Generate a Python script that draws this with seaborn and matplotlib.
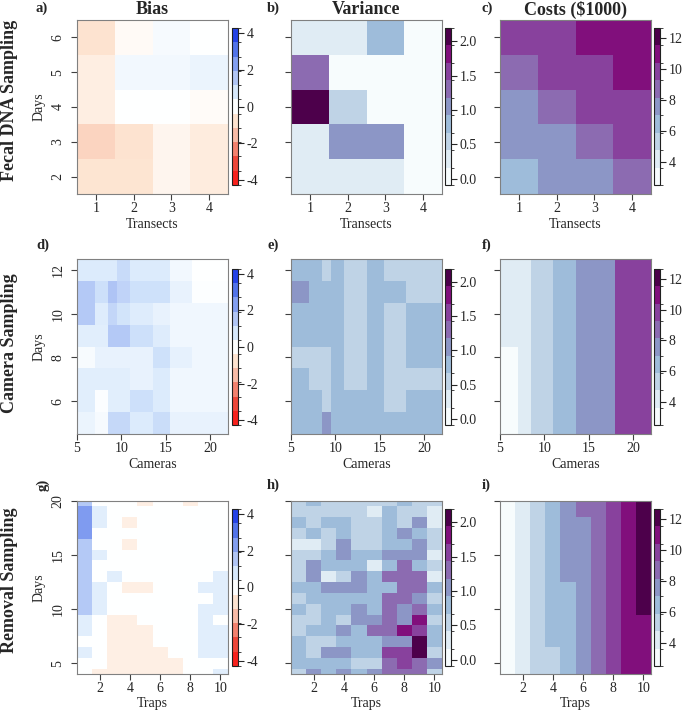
import numpy as np
import pandas as pd
import matplotlib
matplotlib.use("Agg")
import matplotlib.pyplot as plt
from matplotlib.colors import ListedColormap, LinearSegmentedColormap, BoundaryNorm, Normalize
from matplotlib.cm import ScalarMappable
import seaborn as sns

# =====================================
# Data (rows listed top-down, i.e. highest day first)
# =====================================
transects = [1, 2, 3, 4]
days_fecal = [6, 5, 4, 3, 2]
bias_fecal = [[-0.8, -0.15, 0.2, 0.0],
              [-0.5, 0.25, 0.25, 0.4],
              [-0.5, 0.0, 0.0, -0.12],
              [-1.1, -0.8, -0.3, -0.55],
              [-0.75, -0.75, -0.3, -0.55]]
var_fecal = [[0.3, 0.3, 0.8, 0.05],
             [1.3, 0.05, 0.05, 0.05],
             [2.05, 0.5, 0.05, 0.05],
             [0.3, 1.0, 1.0, 0.05],
             [0.3, 0.3, 0.3, 0.05]]
cost_fecal = [[9.8, 9.8, 11.0, 11.0],
              [8.7, 9.8, 9.8, 11.0],
              [7.6, 8.7, 9.8, 9.8],
              [7.6, 7.6, 8.7, 9.8],
              [6.4, 7.6, 7.6, 8.7]]

cameras = [6, 8, 9, 10, 12, 15, 16, 20]
days_camera = [12, 11, 10, 9, 8, 7, 6, 5]
bias_camera = [[0.7, 0.7, 0.7, 1.1, 0.7, 0.7, 0.25, 0.0],
               [1.5, 1.0, 1.6, 1.25, 0.95, 0.95, 0.45, 0.05],
               [1.5, 0.65, 1.2, 0.9, 0.65, 0.45, 0.3, 0.3],
               [0.6, 0.6, 1.5, 1.5, 1.0, 0.65, 0.3, 0.3],
               [0.15, 0.45, 0.45, 0.45, 0.45, 0.95, 0.5, 0.3],
               [0.6, 0.6, 0.6, 0.6, 0.45, 0.7, 0.3, 0.3],
               [0.6, 0.1, 0.6, 0.6, 1.0, 0.7, 0.3, 0.3],
               [0.4, 0.2, 1.15, 1.15, 0.7, 1.05, 0.45, 0.45]]
var_camera = [[0.8, 0.8, 0.5, 0.8, 0.5, 0.8, 0.5, 0.5],
              [1.0, 0.8, 0.8, 0.8, 0.5, 0.8, 0.8, 0.5],
              [0.8, 0.8, 0.8, 0.8, 0.5, 0.8, 0.5, 0.8],
              [0.8, 0.8, 0.8, 0.8, 0.5, 0.8, 0.5, 0.8],
              [0.5, 0.5, 0.5, 0.8, 0.5, 0.8, 0.5, 0.8],
              [0.8, 0.5, 0.5, 0.8, 0.5, 0.8, 0.5, 0.5],
              [0.8, 0.8, 0.5, 0.8, 0.8, 0.8, 0.5, 0.8],
              [0.8, 0.8, 1.0, 0.8, 0.8, 0.8, 0.8, 0.8]]
cost_camera = [[4.2, 4.2, 5.3, 5.3, 6.4, 7.6, 7.6, 9.8],
               [4.2, 4.2, 5.3, 5.3, 6.4, 7.6, 7.6, 9.8],
               [4.2, 4.2, 5.3, 5.3, 6.4, 7.6, 7.6, 9.8],
               [4.2, 4.2, 5.3, 5.3, 6.4, 7.6, 7.6, 9.8],
               [3.0, 4.2, 5.3, 5.3, 6.4, 7.6, 7.6, 9.8],
               [3.0, 4.2, 5.3, 5.3, 6.4, 7.6, 7.6, 9.8],
               [3.0, 4.2, 5.3, 5.3, 6.4, 7.6, 7.6, 9.8],
               [3.0, 4.2, 5.3, 5.3, 6.4, 7.6, 7.6, 9.8]]

traps = [1, 2, 3, 4, 5, 6, 7, 8, 9, 10]
days_removal = [20, 19, 18, 17, 16, 15, 14, 13, 12, 11, 10, 9, 8, 7, 6, 5, 4]
bias_removal = [[1.5, 0, 0, 0, -0.45, 0, 0, -0.45, 0, 0],
                [2.4, 0.6, 0, 0, 0, 0, 0, 0, 0, 0],
                [2.4, 0.6, 0, -0.45, 0, 0, 0, 0, 0, 0],
                [2.4, 0, 0, 0, 0, 0, 0, 0, 0, 0],
                [1.5, 0, 0, -0.45, 0, 0, 0, 0, 0, 0],
                [1.5, 0.6, 0, 0, 0, 0, 0, 0, 0, 0],
                [1.5, 0, 0, 0, 0, 0, 0, 0, 0, 0],
                [1.5, 0, 0.6, 0, 0, 0, 0, 0, 0, 0.6],
                [1.5, 0.6, 0, -0.45, -0.45, 0, 0, 0, 0.6, 0.6],
                [1.5, 0.6, 0, 0, 0, 0, 0, 0, 0, 0.6],
                [1.5, 0.6, 0, 0, 0, 0, 0, 0, 0.6, 0.6],
                [0.6, 0, -0.45, -0.45, 0, 0, 0, 0, 0.6, 0],
                [0.6, 0, -0.45, -0.45, -0.45, 0, 0, 0, 0.6, 0.6],
                [0, 0, -0.45, -0.45, -0.45, 0, 0, 0, 0.6, 0.6],
                [0.6, 0, -0.45, -0.45, -0.45, -0.45, 0, 0, 0.6, 0.6],
                [0, 0, -0.45, -0.45, -0.45, -0.45, -0.45, 0, 0, 0],
                [0, -0.45, -0.45, -0.45, -0.45, -0.45, -0.45, 0, 0, 0.6]]
var_removal = [[0.5, 0.8, 0.5, 0.5, 0.5, 0.5, 0.5, 0.8, 0.5, 0.5],
               [0.5, 0.5, 0.5, 0.5, 0.5, 0.3, 0.8, 0.5, 0.5, 0.3],
               [0.8, 0.5, 0.8, 0.8, 0.5, 0.5, 0.8, 0.5, 1.0, 0.3],
               [0.5, 0.8, 0.5, 0.8, 0.5, 0.5, 0.8, 1.0, 0.8, 0.5],
               [0.3, 0.3, 0.5, 1.0, 0.5, 0.5, 0.8, 0.8, 1.0, 0.5],
               [0.5, 0.5, 0.8, 1.0, 0.8, 0.8, 1.0, 1.0, 1.0, 0.3],
               [0.5, 1.0, 0.8, 0.8, 0.8, 0.3, 0.8, 1.3, 0.8, 0.5],
               [0.5, 1.0, 0.3, 0.5, 1.0, 0.8, 1.3, 1.3, 1.3, 0.3],
               [0.8, 0.8, 1.0, 1.0, 1.0, 0.8, 0.8, 1.3, 1.3, 0.8],
               [0.5, 0.8, 0.8, 0.8, 0.8, 0.8, 1.3, 1.3, 1.0, 0.5],
               [0.8, 0.5, 0.8, 0.8, 1.0, 0.8, 1.3, 1.0, 1.3, 0.8],
               [0.5, 0.5, 0.8, 0.5, 1.0, 1.0, 1.3, 1.0, 1.8, 0.5],
               [0.5, 0.8, 0.8, 1.0, 0.8, 1.3, 1.3, 1.8, 1.55, 0.8],
               [0.8, 0.5, 0.5, 0.8, 0.8, 0.8, 1.0, 1.0, 2.05, 0.8],
               [0.8, 0.5, 1.0, 1.0, 0.8, 0.8, 1.55, 1.55, 2.05, 0.5],
               [0.8, 0.8, 0.8, 0.8, 0.5, 0.5, 1.3, 1.55, 1.3, 1.0],
               [0.5, 1.0, 0.8, 1.0, 0.8, 1.0, 1.3, 1.3, 1.3, 0.5]]
cost_removal = [[3.0, 4.2, 5.3, 6.4, 7.6, 8.7, 8.7, 9.8, 11.0, 12.1],
                [3.0, 4.2, 5.3, 6.4, 7.6, 8.7, 8.7, 9.8, 11.0, 12.1],
                [3.0, 4.2, 5.3, 6.4, 7.6, 7.6, 8.7, 9.8, 11.0, 12.1],
                [3.0, 4.2, 5.3, 6.4, 7.6, 7.6, 8.7, 9.8, 11.0, 12.1],
                [3.0, 4.2, 5.3, 6.4, 7.6, 7.6, 8.7, 9.8, 11.0, 12.1],
                [3.0, 4.2, 5.3, 6.4, 7.6, 7.6, 8.7, 9.8, 11.0, 12.1],
                [3.0, 4.2, 5.3, 6.4, 7.6, 7.6, 8.7, 9.8, 11.0, 12.1],
                [3.0, 4.2, 5.3, 6.4, 7.6, 7.6, 8.7, 9.8, 11.0, 12.1],
                [3.0, 4.2, 5.3, 6.4, 6.4, 7.6, 8.7, 9.8, 11.0, 12.1],
                [3.0, 4.2, 5.3, 6.4, 6.4, 7.6, 8.7, 9.8, 11.0, 12.1],
                [3.0, 4.2, 5.3, 6.4, 6.4, 7.6, 8.7, 9.8, 11.0, 12.1],
                [3.0, 4.2, 5.3, 6.4, 6.4, 7.6, 8.7, 9.8, 11.0, 11.0],
                [3.0, 4.2, 5.3, 6.4, 6.4, 7.6, 8.7, 9.8, 11.0, 11.0],
                [3.0, 4.2, 5.3, 6.4, 6.4, 7.6, 8.7, 9.8, 11.0, 11.0],
                [3.0, 4.2, 5.3, 5.3, 6.4, 7.6, 8.7, 9.8, 11.0, 11.0],
                [3.0, 4.2, 5.3, 5.3, 6.4, 7.6, 8.7, 9.8, 11.0, 11.0],
                [3.0, 4.2, 5.3, 5.3, 6.4, 7.6, 8.7, 9.8, 11.0, 11.0]]

row_names = ["Fecal DNA Sampling", "Camera Sampling", "Removal Sampling"]
col_titles = ["Bias", "Variance", "Costs ($1000)"]
x_names = ["Transects", "Cameras", "Traps"]
panel_tags = ["a)", "b)", "c)", "d)", "e)", "f)", "g)", "h)", "i)"]

# =====================================
# Colour scales
# =====================================
bupu = ["#F7FCFD", "#E0ECF4", "#BFD3E6", "#9EBCDA", "#8C96C6",
        "#8C6BB1", "#88419D", "#810F7C", "#4D004B"]
var_edges = np.linspace(-0.09, 2.19, 10)
cost_edges = np.linspace(2.49, 12.65, 10)
bias_edges = np.linspace(-4.27, 4.27, 12)

bias_anchor_vals = [-4.27, -4.0, -3.2, -2.4, -1.6, -0.8, 0.0, 0.8, 1.6, 2.4, 3.2, 4.0, 4.27]
bias_anchor_cols = ["#FF0000", "#F81E1A", "#EE4236", "#F37B69", "#F8B9A5", "#FDE3CF", "#FFFFFF",
                    "#D6E8FB", "#AFC4F5", "#7F9BF0", "#4D6FE8", "#1D3CE6", "#0000FF"]
bias_norm = Normalize(-4.27, 4.27)
bias_cmap = LinearSegmentedColormap.from_list(
    "bias", [(bias_norm(v), c) for v, c in zip(bias_anchor_vals, bias_anchor_cols)])
bias_centers = (bias_edges[1:] + bias_edges[:-1]) / 2
bias_bands = [bias_cmap(bias_norm(v)) for v in bias_centers]

bupu_cmap = ListedColormap(bupu)
scales = [
    dict(cmap=bias_cmap, norm=bias_norm, bands=bias_bands, edges=bias_edges,
         ticks=[-4, -2, 0, 2, 4], fmt="{:g}"),
    dict(cmap=bupu_cmap, norm=BoundaryNorm(var_edges, 9), bands=bupu, edges=var_edges,
         ticks=[0, 0.5, 1.0, 1.5, 2.0], fmt="{:.1f}"),
    dict(cmap=bupu_cmap, norm=BoundaryNorm(cost_edges, 9), bands=bupu, edges=cost_edges,
         ticks=[4, 6, 8, 10, 12], fmt="{:g}"),
]

rows = [
    dict(xs=transects, ys=days_fecal, z=[bias_fecal, var_fecal, cost_fecal], step=1.0,
         xlim=(0.5, 4.5), ylim=(1.5, 6.5), xticks=[1, 2, 3, 4], yticks=[2, 3, 4, 5, 6]),
    dict(xs=cameras, ys=days_camera, z=[bias_camera, var_camera, cost_camera], step=0.5,
         xlim=(5, 22), ylim=(4.5, 12.5), xticks=[5, 10, 15, 20], yticks=[6, 8, 10, 12]),
    dict(xs=traps, ys=days_removal, z=[bias_removal, var_removal, cost_removal], step=1.0,
         xlim=(0.5, 10.5), ylim=(4, 20), xticks=[2, 4, 6, 8, 10], yticks=[5, 10, 15, 20]),
]


def cell_edges(v):
    v = np.asarray(v, float)
    mid = (v[1:] + v[:-1]) / 2
    return np.concatenate([[v[0] - (v[1] - v[0]) / 2], mid, [v[-1] + (v[-1] - v[-2]) / 2]])


def draw_panel(ax, xs, ys, z, cmap, norm, step):
    # heatmap on a regular grid; irregular x cells are widened by repeating columns
    z = np.asarray(z, float)[::-1]
    ys = np.asarray(ys, float)[::-1]
    xe = cell_edges(xs)
    ye = cell_edges(ys)
    nx = int(round((xe[-1] - xe[0]) / step))
    centers = xe[0] + step * (np.arange(nx) + 0.5)
    col_idx = np.searchsorted(xe, centers) - 1
    grid = pd.DataFrame(z[:, col_idx])
    sns.heatmap(grid, ax=ax, cmap=cmap, norm=norm, cbar=False,
                xticklabels=False, yticklabels=False)
    fx = lambda v: (np.asarray(v, float) - xe[0]) / step
    fy = lambda v: (np.asarray(v, float) - ye[0])
    return fx, fy


# =====================================
# Figure
# =====================================
sns.set_style("ticks")
plt.rcParams['font.family'] = ['Liberation Serif', 'DejaVu Serif']

W, H = 685, 713
fig = plt.figure(figsize=(W / 100, H / 100), dpi=100)


def rect(x0, x1, y0, y1):
    return [x0 / W, 1 - y1 / H, (x1 - x0) / W, (y1 - y0) / H]


cols_x = [(77, 228), (291, 442), (500, 651)]
rows_y = [(20, 194), (259, 434), (501, 674)]
cbar_x = [(232, 238), (445, 451), (654, 660)]
cbar_y = [(28, 185), (269, 425), (509, 666)]
row_label_y = [100, 343, 580]
tag_y = [8, 245, 485]
tag_x = [36, 267, 482]

for r, row in enumerate(rows):
    for c in range(3):
        sc = scales[c]
        ax = fig.add_axes(rect(*cols_x[c], *rows_y[r]))
        fx, fy = draw_panel(ax, row["xs"], row["ys"], row["z"][c], sc["cmap"], sc["norm"], row["step"])
        ax.set_xlim(fx(row["xlim"][0]), fx(row["xlim"][1]))
        ax.set_ylim(fy(row["ylim"][0]), fy(row["ylim"][1]))
        ax.set_xticks(fx(row["xticks"]))
        ax.set_xticklabels([str(t) for t in row["xticks"]], fontsize=10)
        ax.set_yticks(fy(row["yticks"]))
        if c == 0:
            ax.set_yticklabels([str(t) for t in row["yticks"]], fontsize=10,
                               rotation=90, va="center")
        else:
            ax.set_yticklabels([])
        for s in ax.spines.values():
            s.set_visible(True)
            s.set_color("#808080")
            s.set_linewidth(0.8)
        ax.tick_params(length=4, width=0.8, color="#404040", pad=2)
        ax.tick_params(axis="y", pad=5)

        xc = (cols_x[c][0] + cols_x[c][1]) / 2
        fig.text(xc / W, 1 - (rows_y[r][1] + 30) / H, x_names[r],
                 ha="center", va="center", fontsize=10)
        if c == 0:
            fig.text(39 / W, 1 - (rows_y[r][0] + rows_y[r][1]) / 2 / H, "Days",
                     rotation=90, ha="center", va="center", fontsize=10)
        if r == 0:
            fig.text(xc / W, 1 - 10 / H, col_titles[c], ha="center", va="center",
                     fontsize=13, fontweight="bold")
        fig.text(tag_x[c] / W, 1 - tag_y[r] / H, panel_tags[3 * r + c],
                 ha="left", va="center", fontsize=10.5, fontweight="bold",
                 rotation=90 if (r == 2 and c == 0) else 0)

        # colour key
        cax = fig.add_axes(rect(*cbar_x[c], *cbar_y[r]))
        sm = ScalarMappable(norm=BoundaryNorm(sc["edges"], len(sc["bands"])),
                            cmap=ListedColormap(sc["bands"]))
        cb = fig.colorbar(sm, cax=cax, ticks=sc["ticks"])
        cb.ax.set_yticklabels([sc["fmt"].format(t) for t in sc["ticks"]])
        cb.outline.set_linewidth(0.8)
        cb.outline.set_edgecolor("#202020")
        cb.ax.tick_params(length=4, width=0.8, labelsize=10, pad=2)

    fig.text(10 / W, 1 - row_label_y[r] / H, row_names[r], rotation=90,
             ha="center", va="center", fontsize=13, fontweight="bold")

fig.savefig("out.png", dpi=100)
